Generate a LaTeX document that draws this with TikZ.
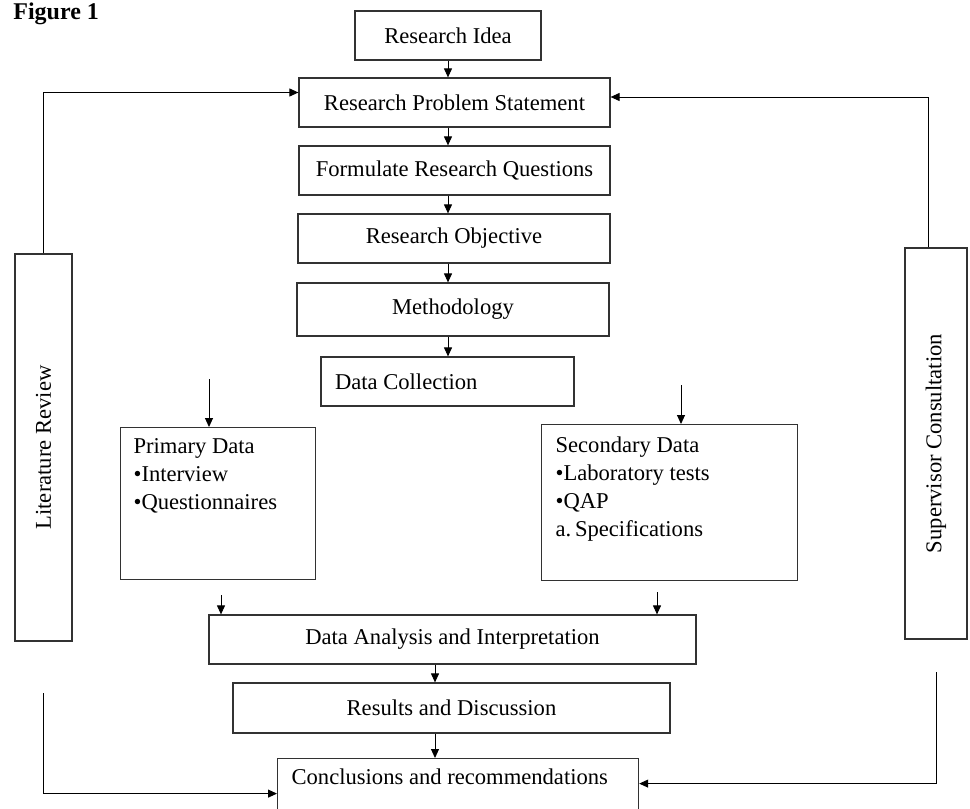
\documentclass[tikz,border=0pt]{standalone}
\usepackage{fontspec}
\setmainfont{Liberation Serif}
\usetikzlibrary{arrows.meta}
\definecolor{boxline}{RGB}{50, 50, 50}

\begin{document}
\begin{tikzpicture}[x=0.5pt, y=-0.5pt,
    box/.style={draw=boxline, line width=.6pt, inner sep=0pt, minimum height=24.5pt, align=center, font=\fontsize{11.3}{14}\selectfont},
    listbox/.style={draw=boxline, line width=.6pt, inner ysep=0pt, align=flush left, font=\fontsize{11.3}{14}\selectfont},
    sidebox/.style={draw=boxline, line width=.6pt, inner sep=0pt, rotate=90, font=\fontsize{11.3}{14}\selectfont},
    arr/.style={-{Triangle[length=4.5pt,width=4pt]}, line width=.5pt, draw=black}]
    % Frame of the page
    \useasboundingbox (0,0) rectangle (970,809);

    % Caption
    \node[font=\bfseries\fontsize{12}{14}\selectfont, anchor=base west, inner sep=0pt] (fig) at (13,19) {Figure 1};

    % Main column
    \node[box, minimum width=93pt] (idea) at (448,35.5) {Research Idea};
    \node[box, minimum width=155.5pt] (rps) at (454.5,102.5) {Research Problem Statement};
    \node[box, minimum width=155.5pt] (rq) at (454.5,170.5) {Formulate Research Questions};
    \node[box, minimum width=156pt] (obj) at (454,238.5) {Research Objective};
    \node[box, minimum width=156pt, minimum height=26.5pt] (meth) at (453,309.5) {Methodology};
    \node[listbox, text width=112.5pt, inner xsep=7pt, minimum height=24.5pt] (dc) at (447.5,381.5) {Data Collection};

    % Primary and secondary data
    \node[listbox, anchor=north west, text width=84.5pt, inner xsep=6.5pt, text height=13pt, text depth=63pt] (prim) at (120,427) {Primary Data\\•Interview\\•Questionnaires};
    \node[listbox, anchor=north west, text width=114pt, inner xsep=7pt, text height=14pt, text depth=64pt] (sec) at (541,424) {Secondary Data\\•Laboratory tests\\•QAP\\a.\,Specifications};

    % Lower column
    \node[box, minimum width=243.5pt] (ana) at (452.5,639.5) {Data Analysis and Interpretation};
    \node[box, minimum width=218.5pt, minimum height=25pt] (res) at (451.5,708) {Results and Discussion};
    \node[listbox, anchor=north west, text width=166.5pt, inner xsep=7pt, text height=13pt, text depth=30pt] (concl) at (277,758) {Conclusions and recommendations};

    % Side boxes
    \node[sidebox, minimum width=193.5pt, minimum height=28.5pt] (lit) at (43.5,447.5) {Literature Review};
    \node[sidebox, minimum width=195.5pt, minimum height=31pt] (sup) at (936,443.5) {Supervisor Consultation};

    % Free ends of the arrows
    \coordinate (pin) at (209,379);
    \coordinate (sin) at (681,385);
    \coordinate (pout) at (221,595);
    \coordinate (sout) at (657,592);
    \coordinate (lowcol) at (435,0);
    \coordinate (litlow) at (43,693);
    \coordinate (suplow) at (936,672);

    % Arrows down the main column
    \draw[arr] (idea.south) -- (idea.south |- rps.north);
    \draw[arr] (rps.south -| idea) -- (rq.north -| idea);
    \draw[arr] (rq.south -| idea) -- (obj.north -| idea);
    \draw[arr] (obj.south -| idea) -- (meth.north -| idea);
    \draw[arr] (meth.south -| idea) -- (dc.north -| idea);

    % Arrows of the data branches
    \draw[arr] (pin) -- (pin |- prim.north);
    \draw[arr] (sin) -- (sin |- sec.north);
    \draw[arr] (pout) -- (pout |- ana.north);
    \draw[arr] (sout) -- (sout |- ana.north);
    \draw[arr] (ana.south -| lowcol) -- (res.north -| lowcol);
    \draw[arr] (res.south -| lowcol) -- (concl.north -| lowcol);

    % Loops from the side boxes
    \draw[arr] (lit.east) |- ([yshift=5pt]rps.west);
    \draw[arr] ([xshift=-4pt]sup.east) |- ([yshift=2.75pt]rps.east);
    \draw[arr] (litlow) |- ([yshift=4pt]concl.west);
    \draw[arr] (suplow) |- ([yshift=9pt]concl.east);
\end{tikzpicture}
\end{document}
